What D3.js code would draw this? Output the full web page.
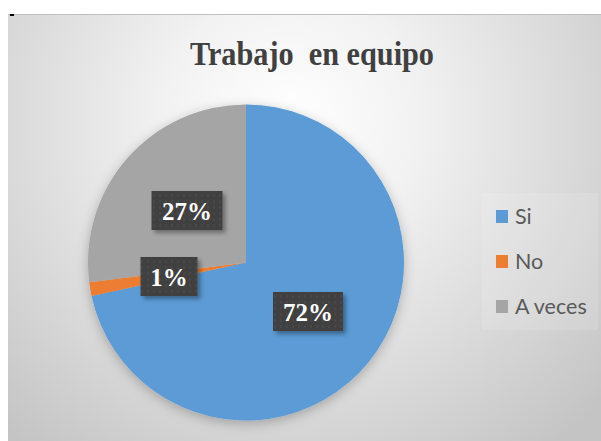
<!DOCTYPE html>
<meta charset="utf-8">
<style>
  body { margin: 0; background: #fff; }
  .title { font-family: "Liberation Serif", serif; font-weight: bold; fill: #404040; }
  .lbl { font-family: "Liberation Serif", serif; font-weight: bold; fill: #fff; }
  .legend text { font-family: Lato, "Open Sans", sans-serif; fill: #595959; }
</style>
<body>
<script src="https://d3js.org/d3.v7.min.js"></script>
<script>
  var categories = ["Si", "No", "A veces"];
  var values = [71.6, 1.4, 27.0];
  var colors = ["#5b9bd5", "#ed7d31", "#a5a5a5"];

  var width = 601, height = 441;
  var cx = 246, cy = 262.5, radius = 158;

  var svg = d3.select("body").append("svg")
    .attr("width", width)
    .attr("height", height);

  var defs = svg.append("defs");

  var grad = defs.append("radialGradient")
    .attr("id", "bg")
    .attr("gradientUnits", "userSpaceOnUse")
    .attr("cx", 290).attr("cy", 120).attr("r", 420);
  grad.append("stop").attr("offset", "0%").attr("stop-color", "#ffffff");
  grad.append("stop").attr("offset", "30%").attr("stop-color", "#f2f2f2");
  grad.append("stop").attr("offset", "100%").attr("stop-color", "#c4c4c4");

  var shadow = defs.append("filter").attr("id", "shadow")
    .attr("x", "-20%").attr("y", "-20%").attr("width", "140%").attr("height", "140%");
  shadow.append("feDropShadow")
    .attr("dx", 0).attr("dy", 3).attr("stdDeviation", 6)
    .attr("flood-color", "#000").attr("flood-opacity", 0.25);

  var boxShadow = defs.append("filter").attr("id", "boxshadow")
    .attr("x", "-20%").attr("y", "-20%").attr("width", "150%").attr("height", "160%");
  boxShadow.append("feDropShadow")
    .attr("dx", 3).attr("dy", 3).attr("stdDeviation", 2)
    .attr("flood-color", "#000").attr("flood-opacity", 0.35);

  var pat = defs.append("pattern").attr("id", "dots")
    .attr("patternUnits", "userSpaceOnUse")
    .attr("width", 6).attr("height", 6);
  pat.append("rect").attr("width", 6).attr("height", 6).attr("fill", "#404040");
  pat.append("circle").attr("cx", 3).attr("cy", 3).attr("r", 1.2).attr("fill", "#4a4a4a");

  // chart area
  svg.append("rect")
    .attr("x", 8).attr("y", 14)
    .attr("width", width - 8).attr("height", height - 14)
    .attr("fill", "url(#bg)");
  svg.append("line")
    .attr("x1", 8).attr("x2", width).attr("y1", 14.5).attr("y2", 14.5)
    .attr("stroke", "#bfbfbf");
  svg.append("rect")
    .attr("x", 10).attr("y", 14).attr("width", 4).attr("height", 2)
    .attr("fill", "#000");

  svg.append("text")
    .attr("class", "title")
    .attr("x", 190).attr("y", 65)
    .attr("textLength", 244)
    .attr("lengthAdjust", "spacingAndGlyphs")
    .style("font-size", "33px")
    .attr("xml:space", "preserve")
    .text("Trabajo  en equipo");

  var data = categories.map(function(c, i) { return { name: c, value: values[i], color: colors[i] }; });
  var total = d3.sum(values);

  var pie = d3.pie().sort(null).value(function(d) { return d.value; });
  var arc = d3.arc().innerRadius(0).outerRadius(radius);

  var g = svg.append("g").attr("transform", "translate(" + cx + "," + cy + ")");

  g.append("g").attr("filter", "url(#shadow)")
    .selectAll("path")
    .data(pie(data))
    .enter().append("path")
      .attr("d", arc)
      .attr("fill", function(d) { return d.data.color; });

  // label positions (box centres), relative to pie centre
  var labelPos = [[62, 49], [-77, 14], [-59, -52]];
  var fmt = d3.format(".0%");
  var boxW = [70, 57, 71], boxH = 39;

  var labels = g.selectAll(".lab")
    .data(pie(data))
    .enter().append("g")
      .attr("class", "lab")
      .attr("transform", function(d, i) { return "translate(" + labelPos[i] + ")"; });

  labels.append("rect")
    .attr("x", function(d, i) { return -boxW[i] / 2; })
    .attr("y", -boxH / 2)
    .attr("width", function(d, i) { return boxW[i]; })
    .attr("height", boxH)
    .attr("fill", "url(#dots)")
    .attr("filter", "url(#boxshadow)");

  labels.append("text")
    .attr("class", "lbl")
    .attr("text-anchor", "middle")
    .attr("y", 9)
    .style("font-size", "25px")
    .text(function(d) { return fmt(Math.round(d.data.value) / total); });

  // legend
  var legend = svg.append("g").attr("class", "legend");
  legend.append("rect")
    .attr("x", 482).attr("y", 193).attr("width", 116).attr("height", 137)
    .attr("fill", "#ffffff").attr("opacity", 0.12);

  var y = d3.scalePoint().domain(categories).range([217, 307]);
  var item = legend.selectAll(".item")
    .data(data)
    .enter().append("g")
      .attr("class", "item")
      .attr("transform", function(d) { return "translate(496," + y(d.name) + ")"; });
  item.append("rect")
    .attr("x", 0).attr("y", -7).attr("width", 12).attr("height", 13)
    .attr("fill", function(d) { return d.color; });
  item.append("text")
    .attr("x", 19).attr("y", 7)
    .style("font-size", "21.5px")
    .text(function(d) { return d.name; });
</script>
</body>
</html>
